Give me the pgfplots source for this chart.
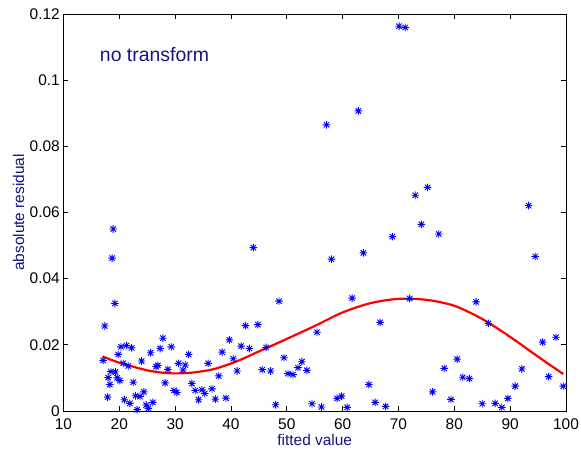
\documentclass[border=0pt]{standalone}
\usepackage{pgfplots}
\pgfplotsset{compat=1.18}
\usepackage{fontspec}
\setmainfont{Liberation Sans}
\definecolor{mlnavy}{RGB}{20,20,135}

% matlab style '*' marker: eight arms
\pgfdeclareplotmark{mlstar}{%
  \pgfpathmoveto{\pgfqpoint{-\pgfplotmarksize}{0pt}}%
  \pgfpathlineto{\pgfqpoint{\pgfplotmarksize}{0pt}}%
  \pgfpathmoveto{\pgfqpoint{0pt}{-\pgfplotmarksize}}%
  \pgfpathlineto{\pgfqpoint{0pt}{\pgfplotmarksize}}%
  \pgfpathmoveto{\pgfqpoint{-0.707\pgfplotmarksize}{-0.707\pgfplotmarksize}}%
  \pgfpathlineto{\pgfqpoint{0.707\pgfplotmarksize}{0.707\pgfplotmarksize}}%
  \pgfpathmoveto{\pgfqpoint{-0.707\pgfplotmarksize}{0.707\pgfplotmarksize}}%
  \pgfpathlineto{\pgfqpoint{0.707\pgfplotmarksize}{-0.707\pgfplotmarksize}}%
  \pgfusepathqstroke}

\begin{document}
\begin{tikzpicture}
\useasboundingbox (-63.5bp,-46bp) rectangle (517.5bp,411bp);
\begin{axis}[
    width=502.5bp, height=397bp, scale only axis,
    xmin=10, xmax=100, ymin=0, ymax=0.12,
    xtick={10,20,...,100},
    ytick={0,0.02,0.04,0.06,0.08,0.1,0.12},
    yticklabels={0,0.02,0.04,0.06,0.08,0.1,0.12},
    scaled y ticks=false,
    /pgf/number format/assume math mode=true,
    tick align=inside,
    major tick length=5bp,
    axis line style={line width=0.8bp},
    tick style={line width=0.7bp, black},
    tick label style={font=\fontsize{15.5}{18}\selectfont, text=black, inner sep=1bp},
    xticklabel style={yshift=-7bp},
    yticklabel style={xshift=-2.5bp},
    xlabel={fitted value},
    ylabel={absolute residual},
    label style={font=\fontsize{15.5}{18}\selectfont, text=mlnavy},
    xlabel style={at={(axis description cs:0.5,-0.0874)}, anchor=base},
    ylabel style={at={(axis description cs:-0.0786,0.5)}, anchor=base},
    clip=false,
]
% residuals
\addplot[only marks, mark=mlstar, mark size=3.8bp, blue, line width=0.9bp] coordinates {
(17.1,0.0153) (17.4,0.0257) (18.9,0.0550) (18.7,0.0462) (19.2,0.0325)
(20.3,0.0194) (21.3,0.0198) (22.2,0.0191) (19.8,0.0171) (20.7,0.0144)
(21.6,0.0136) (18.5,0.0119) (19.3,0.0118) (18.0,0.0101) (19.6,0.0100)
(20.1,0.0092) (18.3,0.0080) (22.5,0.0087) (17.9,0.0042) (20.9,0.0034)
(21.9,0.0023) (22.9,0.0046) (23.7,0.0044) (24.4,0.0058) (23.2,0.0004)
(24.8,0.0018) (25.2,0.0008) (26.0,0.0026) (24.0,0.0151) (25.6,0.0176)
(27.8,0.0220) (27.3,0.0189) (29.3,0.0194) (26.6,0.0134) (26.9,0.0138)
(28.7,0.0126) (28.2,0.0085) (29.8,0.0062) (30.3,0.0056) (30.6,0.0144)
(31.8,0.0139) (31.4,0.0124) (32.4,0.0171)
(33.0,0.0083) (33.6,0.0062) (34.8,0.0064) (35.3,0.0053) (36.6,0.0067)
(34.2,0.0034) (37.2,0.0036) (39.1,0.0039) (35.9,0.0144) (37.8,0.0106)
(38.4,0.0178) (39.7,0.0215) (40.4,0.0158) (41.1,0.0121) (41.8,0.0196)
(43.3,0.0189) (42.6,0.0258) (44.8,0.0261) (44.0,0.0494) (46.3,0.0192)
(45.6,0.0125) (47.1,0.0121) (48.6,0.0332) (48.0,0.0019) (49.5,0.0161)
(50.2,0.0113) (51.1,0.0110) (52.0,0.0131) (52.7,0.0149) (53.6,0.0123)
(54.5,0.0022) (55.4,0.0238)
(56.2,0.0012) (57.1,0.0865) (58.0,0.0459) (59.0,0.0038) (59.8,0.0045)
(60.8,0.0011) (61.7,0.0341) (62.8,0.0907) (63.7,0.0478) (64.7,0.0080)
(65.8,0.0026) (66.7,0.0268) (67.7,0.0014) (68.9,0.0527) (70.1,0.1163)
(71.2,0.1159) (72.0,0.0340) (73.0,0.0652) (74.1,0.0564) (75.2,0.0676)
(76.1,0.0058) (77.2,0.0535) (78.2,0.0129) (79.4,0.0035) (80.5,0.0157)
(81.5,0.0102) (82.7,0.0098) (83.9,0.0330) (85.0,0.0022) (86.1,0.0265)
(87.3,0.0023) (88.5,0.0011) (89.6,0.0038) (90.9,0.0075) (92.1,0.0127)
(93.3,0.0621) (94.5,0.0467) (95.8,0.0208) (96.9,0.0104) (98.2,0.0223)
(99.5,0.0075)
};
% fitted curve
\addplot[red, line width=2.2bp, smooth, no marks] coordinates {
(17,0.0165) (20,0.0146) (25,0.0123) (29,0.0114) (33,0.0116) (37,0.0127)
(41,0.0150) (45,0.0180) (50,0.0218) (55,0.0257) (60,0.0298) (65,0.0326)
(70,0.0339) (75,0.0336) (80,0.0318) (85,0.0278) (90,0.0224) (95,0.0164)
(99.5,0.0112)
};
\node[anchor=base west, text=mlnavy, font=\fontsize{19.5}{22}\selectfont, inner sep=0pt]
  at (axis cs:16.5,0.1055) {no transform};
\end{axis}
\end{tikzpicture}
\end{document}
